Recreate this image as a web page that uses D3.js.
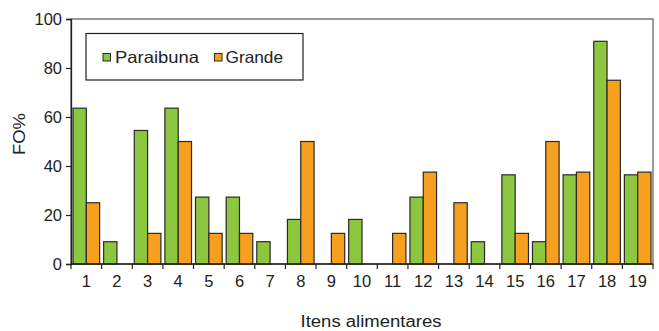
<!DOCTYPE html>
<html><head><meta charset="utf-8">
<script src="https://cdn.jsdelivr.net/npm/d3@7/dist/d3.min.js"></script>
<style>body{margin:0;background:#fff}svg{display:block;font-family:"Liberation Sans",Arial,sans-serif}</style>
</head><body>
<svg id="c" width="659" height="331"></svg>
<script>
const categories = ["1","2","3","4","5","6","7","8","9","10","11","12","13","14","15","16","17","18","19"];
const seriesNames = ["Paraibuna","Grande"];
const paraibuna = [63.6,9.1,54.5,63.6,27.3,27.3,9.1,18.2,0,18.2,0,27.3,0,9.1,36.4,9.1,36.4,90.9,36.4];
const grande = [25,0,12.5,50,12.5,12.5,0,50,12.5,0,12.5,37.5,25,0,12.5,50,37.5,75,37.5];
const yTicks = [0,20,40,60,80,100];
const colors = ["#8dc63f","#f79f1f"];

const svg = d3.select("#c");
const L = 71, R = 653, T = 19, B = 264;
const x = d3.scaleBand().domain(categories).range([L, R]).padding(0);
const y = d3.scaleLinear().domain([0,100]).range([B, T]);
const inner = d3.scaleBand().domain(seriesNames).range([0, x.bandwidth()]).paddingInner(0).paddingOuter(0.15);

// plot area border
svg.append("rect").attr("x",L).attr("y",T).attr("width",R-L).attr("height",B-T)
  .attr("fill","none").attr("stroke","#666").attr("stroke-width",1.3);

const data = [paraibuna, grande];
data.forEach((vals,si)=>{
  svg.append("g").selectAll("rect").data(categories.map((c,i)=>({c,v:vals[i]})).filter(d=>d.v>0))
    .join("rect")
    .attr("x",d=>x(d.c)+inner(seriesNames[si]))
    .attr("y",d=>y(d.v))
    .attr("width",inner.bandwidth())
    .attr("height",d=>B-y(d.v))
    .attr("fill",colors[si]).attr("stroke","#2a2a2a").attr("stroke-width",1.2);
});

// y axis
const ya = svg.append("g").attr("transform",`translate(${L},0)`)
  .call(d3.axisLeft(y).tickValues(yTicks).tickSize(5).tickPadding(4));
ya.select(".domain").attr("stroke","#222").attr("stroke-width",1.3);
ya.selectAll(".tick line").attr("stroke","#222").attr("stroke-width",1.2);
ya.selectAll("text").attr("font-size",16.5).attr("fill","#222").attr("font-family","Liberation Sans, Arial, sans-serif");

// x axis
const xa = svg.append("g").attr("transform",`translate(0,${B})`)
  .call(d3.axisBottom(x).tickSize(0).tickPadding(11));
xa.select(".domain").remove();
xa.selectAll("text").attr("font-size",16.5).attr("fill","#222").attr("font-family","Liberation Sans, Arial, sans-serif");
svg.append("line").attr("x1",L).attr("x2",R).attr("y1",B).attr("y2",B).attr("stroke","#222").attr("stroke-width",1.3);
const bounds = categories.map(c=>x(c)).concat([R]);
svg.append("g").selectAll("line").data(bounds).join("line")
  .attr("x1",d=>d).attr("x2",d=>d).attr("y1",B).attr("y2",B+5).attr("stroke","#222").attr("stroke-width",1.2);

// titles
svg.append("text").attr("x",300.5).attr("y",327)
  .attr("font-size",16).attr("fill","#222").attr("textLength",141).attr("lengthAdjust","spacingAndGlyphs").text("Itens alimentares");
svg.append("text").attr("transform",`translate(25,155) rotate(-90)`)
  .attr("font-size",16.5).attr("fill","#222").attr("textLength",42).attr("lengthAdjust","spacingAndGlyphs").text("FO%");

// legend
const lg = svg.append("g");
lg.append("rect").attr("x",86).attr("y",33.5).attr("width",217).attr("height",46.5)
  .attr("fill","#fff").attr("stroke","#222").attr("stroke-width",1.2);
const lx = [103, 214.5];
const tx = [115, 225.5];
const tw = [84, 57.5];
seriesNames.forEach((s,i)=>{
  lg.append("rect").attr("x",lx[i]).attr("y",53.5).attr("width",7.5).attr("height",7.5)
    .attr("fill",colors[i]).attr("stroke","#2a2a2a").attr("stroke-width",1);
  lg.append("text").attr("x",tx[i]).attr("y",62.5).attr("font-size",16.5).attr("fill","#222")
    .attr("textLength",tw[i]).attr("lengthAdjust","spacingAndGlyphs").text(s);
});
</script>
</body></html>
